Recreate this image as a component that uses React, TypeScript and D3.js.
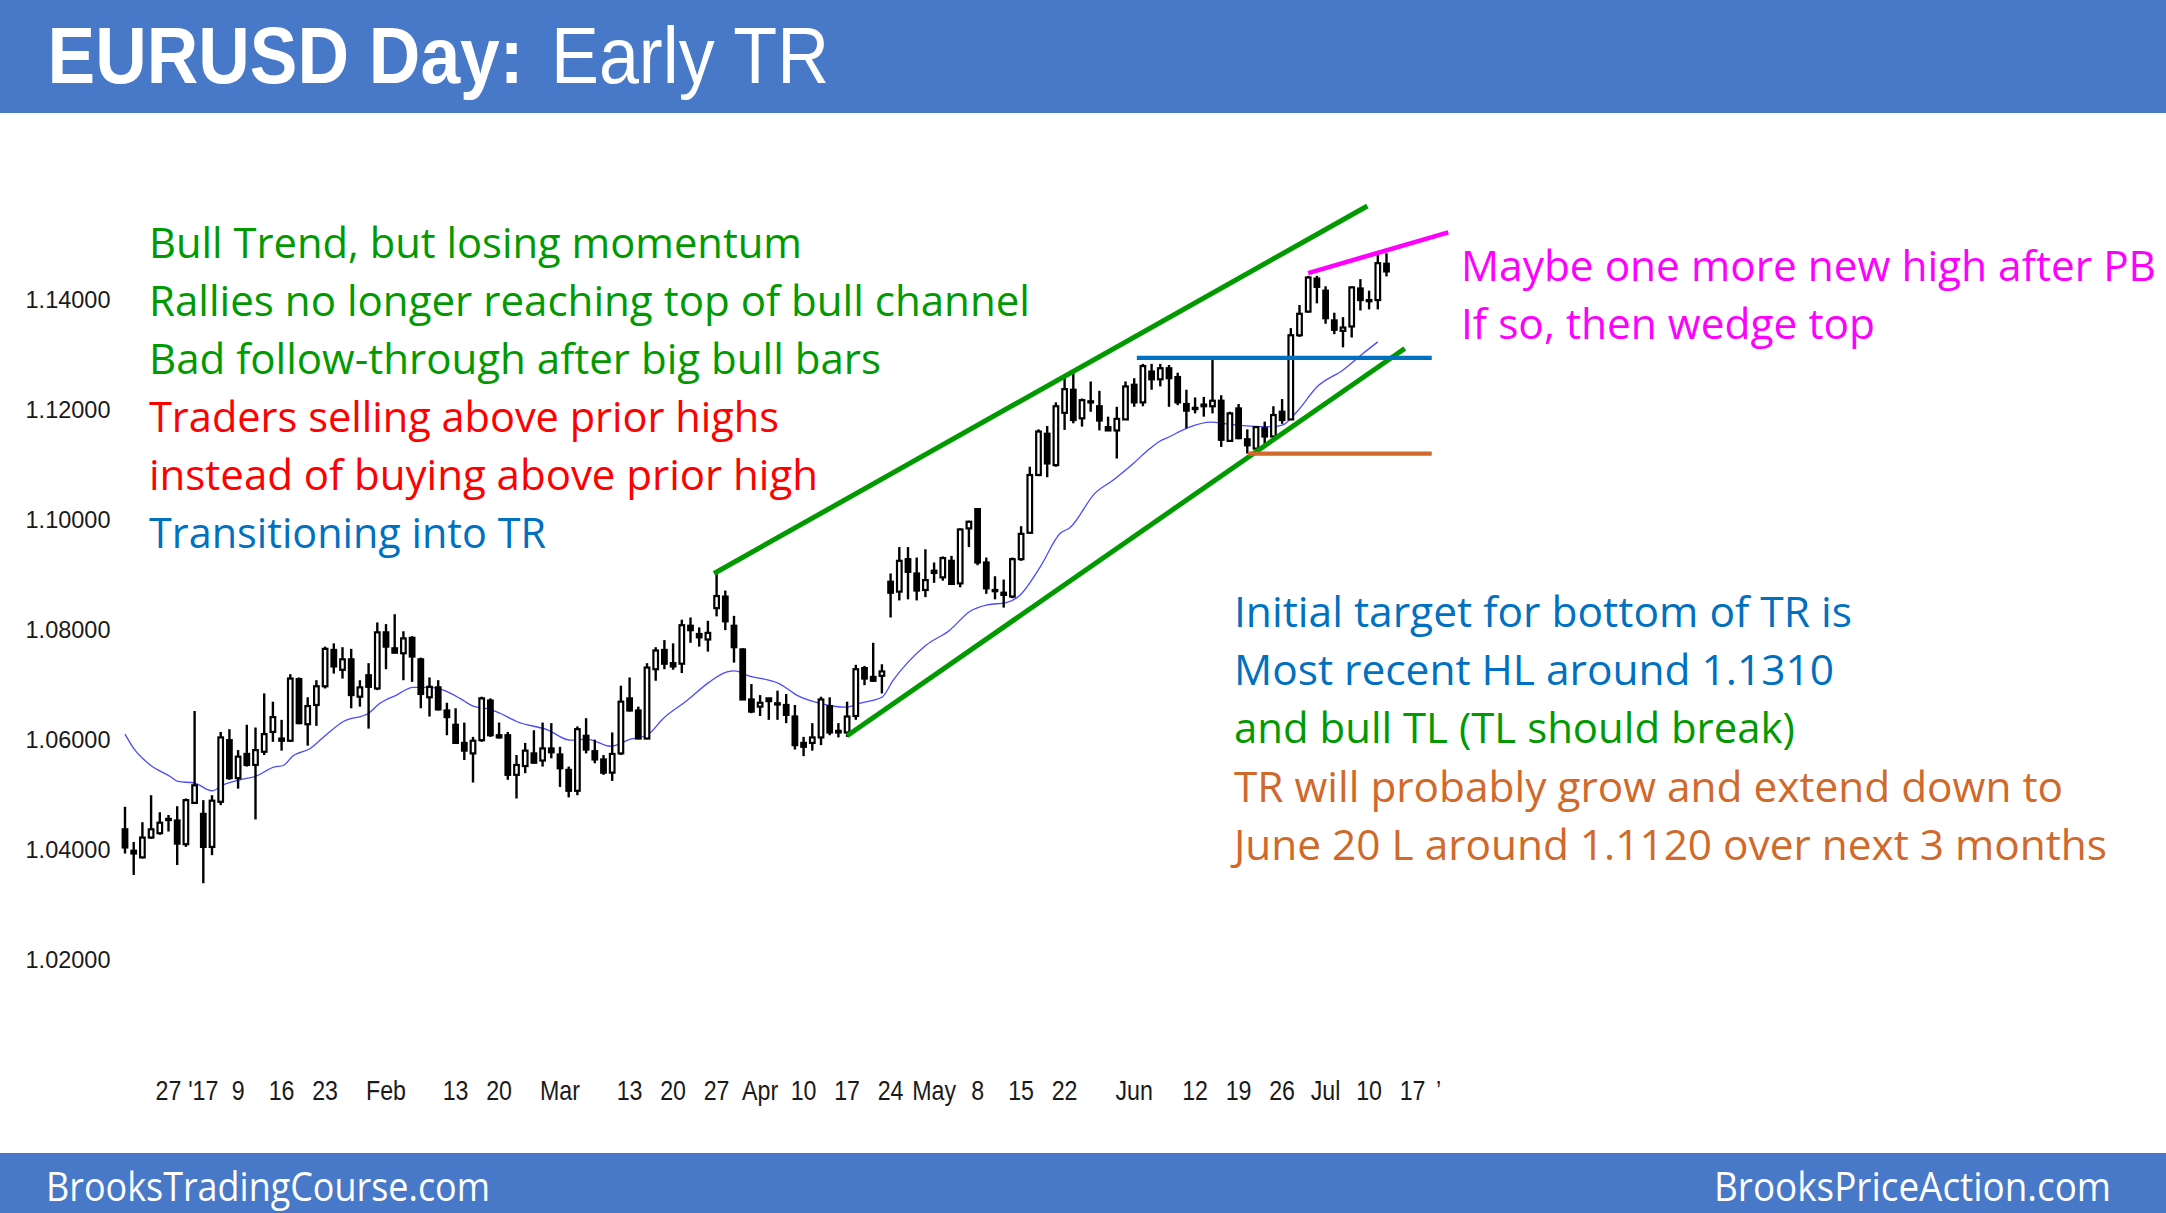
import React from 'react';
import * as d3 from 'd3';

// Daily EURUSD bars, Dec 19 2016 .. Jul 12 2017 (bar index 0..145)
const opens = [
  1.0437, 1.0398, 1.0386, 1.0422, 1.0430, 1.0454, 1.0453, 1.0410, 1.0485, 1.0465,
  1.0405, 1.0487, 1.0599, 1.0530, 1.0574, 1.0554, 1.0578, 1.0614, 1.0602, 1.0598,
  1.0710, 1.0628, 1.0663, 1.0697, 1.0763, 1.0727, 1.0746, 1.0678, 1.0717, 1.0693,
  1.0795, 1.0766, 1.0757, 1.0785, 1.0746, 1.0677, 1.0695, 1.0653, 1.0627, 1.0594,
  1.0575, 1.0599, 1.0671, 1.0608, 1.0608, 1.0536, 1.0552, 1.0575, 1.0562, 1.0584,
  1.0573, 1.0545, 1.0507, 1.0607, 1.0579, 1.0564, 1.0540, 1.0575, 1.0675, 1.0653,
  1.0602, 1.0728, 1.0763, 1.0739, 1.0738, 1.0807, 1.0792, 1.0782, 1.0839, 1.0860,
  1.0807, 1.0764, 1.0673, 1.0660, 1.0675, 1.0666, 1.0663, 1.0642, 1.0594, 1.0594,
  1.0604, 1.0661, 1.0616, 1.0613, 1.0643, 1.0730, 1.0714, 1.0716, 1.0887, 1.0869,
  1.0928, 1.0902, 1.0872, 1.0903, 1.0895, 1.0925, 1.0884, 1.0984, 1.1019, 1.0922,
  1.0872, 1.0867, 1.0860, 1.0928, 1.0976, 1.1081, 1.1156, 1.1099, 1.1194, 1.1236,
  1.1184, 1.1215, 1.1206, 1.1168, 1.1162, 1.1182, 1.1245, 1.1213, 1.1269, 1.1255,
  1.1275, 1.1259, 1.1210, 1.1203, 1.1206, 1.1206, 1.1216, 1.1143, 1.1202, 1.1146,
  1.1129, 1.1166, 1.1151, 1.1196, 1.1182, 1.1335, 1.1378, 1.1438, 1.1416, 1.1362,
  1.1343, 1.1351, 1.1420, 1.1399, 1.1399, 1.1465,
];
const highs = [
  1.0478, 1.0414, 1.0450, 1.0499, 1.0468, 1.0463, 1.0479, 1.0493, 1.0652, 1.0490,
  1.0499, 1.0614, 1.0619, 1.0581, 1.0627, 1.0622, 1.0684, 1.0669, 1.0636, 1.0719,
  1.0713, 1.0677, 1.0708, 1.0769, 1.0775, 1.0768, 1.0765, 1.0708, 1.0739, 1.0813,
  1.0810, 1.0828, 1.0797, 1.0788, 1.0749, 1.0713, 1.0708, 1.0667, 1.0657, 1.0631,
  1.0605, 1.0678, 1.0675, 1.0631, 1.0614, 1.0572, 1.0594, 1.0617, 1.0631, 1.0630,
  1.0587, 1.0551, 1.0624, 1.0639, 1.0600, 1.0572, 1.0613, 1.0698, 1.0713, 1.0660,
  1.0739, 1.0768, 1.0781, 1.0775, 1.0818, 1.0822, 1.0804, 1.0816, 1.0902, 1.0871,
  1.0825, 1.0766, 1.0701, 1.0681, 1.0675, 1.0689, 1.0683, 1.0663, 1.0605, 1.0630,
  1.0678, 1.0677, 1.0630, 1.0669, 1.0736, 1.0734, 1.0776, 1.0737, 1.0902, 1.0950,
  1.0950, 1.0931, 1.0946, 1.0922, 1.0933, 1.0934, 1.0984, 1.0998, 1.1020, 1.0931,
  1.0897, 1.0891, 1.0931, 1.0988, 1.1096, 1.1164, 1.1170, 1.1213, 1.1257, 1.1266,
  1.1220, 1.1251, 1.1234, 1.1187, 1.1205, 1.1251, 1.1257, 1.1283, 1.1283, 1.1283,
  1.1281, 1.1267, 1.1236, 1.1222, 1.1223, 1.1290, 1.1226, 1.1196, 1.1210, 1.1164,
  1.1170, 1.1178, 1.1206, 1.1219, 1.1348, 1.1390, 1.1443, 1.1443, 1.1424, 1.1376,
  1.1368, 1.1424, 1.1437, 1.1416, 1.1481, 1.1484,
];
const lows = [
  1.0393, 1.0354, 1.0384, 1.0420, 1.0427, 1.0433, 1.0372, 1.0405, 1.0483, 1.0339,
  1.0390, 1.0481, 1.0527, 1.0511, 1.0551, 1.0455, 1.0572, 1.0596, 1.0580, 1.0596,
  1.0628, 1.0589, 1.0625, 1.0693, 1.0720, 1.0711, 1.0657, 1.0660, 1.0620, 1.0690,
  1.0728, 1.0757, 1.0708, 1.0705, 1.0657, 1.0642, 1.0653, 1.0608, 1.0593, 1.0563,
  1.0522, 1.0596, 1.0605, 1.0602, 1.0527, 1.0493, 1.0539, 1.0557, 1.0551, 1.0566,
  1.0514, 1.0495, 1.0499, 1.0575, 1.0557, 1.0536, 1.0525, 1.0572, 1.0651, 1.0601,
  1.0601, 1.0707, 1.0728, 1.0727, 1.0721, 1.0776, 1.0769, 1.0760, 1.0824, 1.0799,
  1.0740, 1.0672, 1.0648, 1.0643, 1.0636, 1.0636, 1.0630, 1.0582, 1.0570, 1.0580,
  1.0590, 1.0608, 1.0604, 1.0605, 1.0636, 1.0699, 1.0705, 1.0684, 1.0822, 1.0853,
  1.0855, 1.0853, 1.0859, 1.0885, 1.0889, 1.0883, 1.0877, 1.0950, 1.0917, 1.0865,
  1.0855, 1.0840, 1.0857, 1.0925, 1.0975, 1.1079, 1.1077, 1.1096, 1.1163, 1.1175,
  1.1169, 1.1196, 1.1162, 1.1161, 1.1111, 1.1181, 1.1205, 1.1206, 1.1236, 1.1242,
  1.1205, 1.1208, 1.1166, 1.1193, 1.1187, 1.1193, 1.1132, 1.1142, 1.1146, 1.1120,
  1.1128, 1.1137, 1.1149, 1.1174, 1.1181, 1.1332, 1.1376, 1.1393, 1.1356, 1.1337,
  1.1313, 1.1331, 1.1380, 1.1382, 1.1382, 1.1442,
];
const closes = [
  1.0404, 1.0393, 1.0422, 1.0437, 1.0449, 1.0456, 1.0411, 1.0490, 1.0517, 1.0405,
  1.0489, 1.0604, 1.0530, 1.0569, 1.0554, 1.0581, 1.0610, 1.0641, 1.0598, 1.0711,
  1.0630, 1.0661, 1.0697, 1.0765, 1.0733, 1.0746, 1.0681, 1.0695, 1.0696, 1.0795,
  1.0769, 1.0758, 1.0784, 1.0751, 1.0683, 1.0696, 1.0655, 1.0641, 1.0594, 1.0580,
  1.0598, 1.0675, 1.0608, 1.0604, 1.0536, 1.0554, 1.0580, 1.0558, 1.0584, 1.0577,
  1.0548, 1.0507, 1.0619, 1.0582, 1.0564, 1.0540, 1.0574, 1.0669, 1.0653, 1.0602,
  1.0731, 1.0762, 1.0738, 1.0733, 1.0808, 1.0799, 1.0786, 1.0794, 1.0861, 1.0815,
  1.0768, 1.0673, 1.0651, 1.0667, 1.0670, 1.0664, 1.0645, 1.0590, 1.0587, 1.0604,
  1.0673, 1.0613, 1.0613, 1.0642, 1.0728, 1.0711, 1.0707, 1.0724, 1.0867, 1.0925,
  1.0905, 1.0871, 1.0890, 1.0907, 1.0930, 1.0883, 1.0982, 1.0996, 1.0922, 1.0875,
  1.0870, 1.0863, 1.0928, 1.0974, 1.1081, 1.1160, 1.1102, 1.1206, 1.1237, 1.1181,
  1.1217, 1.1213, 1.1180, 1.1162, 1.1183, 1.1242, 1.1213, 1.1279, 1.1255, 1.1275,
  1.1257, 1.1213, 1.1198, 1.1201, 1.1209, 1.1216, 1.1145, 1.1193, 1.1148, 1.1135,
  1.1168, 1.1151, 1.1190, 1.1181, 1.1335, 1.1374, 1.1440, 1.1423, 1.1366, 1.1345,
  1.1349, 1.1422, 1.1399, 1.1397, 1.1466, 1.1451,
];

// Moving average (bar index, price)
const maIdx = [
  0, 1, 2.9, 5.2, 6.1, 8, 10, 11.3, 13.2, 15.1, 17.1, 18.2, 19.2, 21.3, 23.2, 25.1,
  28, 29.3, 31.2, 33.1, 35.1, 36.6, 38.5, 40, 42, 43.1, 45, 48.5, 51.2, 53.1, 55.8,
  58.1, 60, 61.9, 64.6, 67.2, 69.2, 70.1, 71.5, 75.3, 77.2, 79.9, 82.9, 84.4, 87,
  88.3, 89.9, 92.1, 94.8, 97.1, 99.1, 101.3, 102.9, 105.2, 107.5, 108.6, 111.5,
  113.6, 115.9, 117.8, 118.9, 120.1, 122.2, 124.8, 126.6, 129.3, 132, 133.1, 134.7,
  137, 140, 142.3, 144,
];
const maVals = [
  1.0610, 1.0584, 1.0554, 1.0533, 1.0524, 1.0521, 1.0507, 1.0518, 1.0527, 1.0534,
  1.0550, 1.0553, 1.0569, 1.0584, 1.0610, 1.0633, 1.0648, 1.0666, 1.0681, 1.0695,
  1.0695, 1.0690, 1.0675, 1.0661, 1.0655, 1.0648, 1.0633, 1.0618, 1.0599, 1.0601,
  1.0588, 1.0601, 1.0608, 1.0639, 1.0671, 1.0705, 1.0723, 1.0725, 1.0717, 1.0701,
  1.0681, 1.0666, 1.0659, 1.0666, 1.0677, 1.0708, 1.0739, 1.0772, 1.0799, 1.0833,
  1.0845, 1.0849, 1.0863, 1.0914, 1.0975, 1.0985, 1.1048, 1.1072, 1.1102, 1.1129,
  1.1142, 1.1151, 1.1167, 1.1177, 1.1174, 1.1170, 1.1169, 1.1172, 1.1196, 1.1241,
  1.1272, 1.1302, 1.1323,
];

// X axis tick labels (bar index of each label)
const tickIdx = [5, 9, 13, 18, 23, 30, 38, 43, 50, 58, 63, 68, 73, 78, 83, 88, 93, 98, 103, 108, 116, 123, 128, 133, 138, 143, 148, 151];
const tickLabels = ["27", "'17", "9", "16", "23", "Feb", "13", "20", "Mar", "13", "20", "27", "Apr", "10", "17", "24", "May", "8", "15", "22", "Jun", "12", "19", "26", "Jul", "10", "17", "\u2019"];

// Y axis ticks
const yTicks = [1.02, 1.04, 1.06, 1.08, 1.1, 1.12, 1.14];

// Drawn lines: [startIndex, startPrice, endIndex, endPrice]
const channelTop = [67.7, 1.0902, 142.8, 1.157];
const channelBottom = [83.0, 1.0607, 147.1, 1.1311];
const wedgeLine = [136.0, 1.1448, 152.1, 1.1522];
const higherLowLine = [116.3, 1.1294, 150.2, 1.1294];
const june20Line = [129.1, 1.112, 150.2, 1.112];

const leftNotes = [
  "Bull Trend, but losing momentum",
  "Rallies no longer reaching top of bull channel",
  "Bad follow-through after big bull bars",
  "Traders selling above prior highs",
  "instead of buying above prior high",
  "Transitioning into TR",
];
const rightTopNotes = ["Maybe one more new high after PB", "If so, then wedge top"];
const rightBottomNotes = [
  "Initial target for bottom of TR is",
  "Most recent HL around 1.1310",
  "and bull TL (TL should break)",
  "TR will probably grow and extend down to",
  "June 20 L around 1.1120 over next 3 months",
];

const GREEN = '#009a00';
const RED = '#ff0000';
const BLUE = '#0070c0';
const MAGENTA = '#ff00ff';
const ORANGE = '#d0692a';
const BAND = '#4878c8';

export default function App() {
  const W = 2166;
  const H = 1213;
  const x = d3.scaleLinear().domain([0, 145]).range([125, 1386.5]);
  const y = d3.scaleLinear().domain([1.02, 1.14]).range([959.7, 299.5]);

  const maLine = d3
    .line<number>()
    .x((_, i) => x(maIdx[i]))
    .y((d) => y(d))
    .curve(d3.curveMonotoneX);

  const seg = (s: number[], color: string, w: number, key: string) => (
    <line
      key={key}
      x1={x(s[0])}
      y1={y(s[1])}
      x2={x(s[2])}
      y2={y(s[3])}
      stroke={color}
      strokeWidth={w}
    />
  );

  const bodyW = 4.6;
  const noteFont = "'Open Sans', 'Noto Sans', sans-serif";

  const leftColors = [GREEN, GREEN, GREEN, RED, RED, BLUE];
  const leftWidths = [653, 881, 732, 630, 669, 397];
  const rbColors = [BLUE, BLUE, GREEN, ORANGE, ORANGE];
  const rbWidths = [618, 600, 561, 829, 873];
  const rbBase = [627, 685, 743, 802, 860];
  const rtWidths = [695, 414];

  return (
    <svg
      width={W}
      height={H}
      viewBox={`0 0 ${W} ${H}`}
      style={{ position: 'absolute', left: 0, top: 0, background: '#ffffff' }}
    >
      <rect x={0} y={0} width={W} height={H} fill="#ffffff" />
      {/* header */}
      <rect x={0} y={0} width={W} height={113} fill={BAND} />
      <text
        x={47.6}
        y={83}
        fontFamily="'Liberation Sans', Arial, sans-serif"
        fontWeight="bold"
        fontSize={79}
        fill="#ffffff"
        textLength={476}
        lengthAdjust="spacingAndGlyphs"
      >
        EURUSD Day:
      </text>
      <text
        x={551}
        y={83}
        fontFamily="'Liberation Sans', Arial, sans-serif"
        fontSize={79}
        fill="#ffffff"
        textLength={278}
        lengthAdjust="spacingAndGlyphs"
      >
        Early TR
      </text>

      {/* y axis labels */}
      {yTicks.map((t) => (
        <text
          key={`y${t}`}
          x={110.5}
          y={y(t) + 8.4}
          textAnchor="end"
          fontFamily="'Liberation Sans', Arial, sans-serif"
          fontSize={23.5}
          fill="#1a1a1a"
        >
          {t.toFixed(5)}
        </text>
      ))}

      {/* x axis labels (narrow glyphs) */}
      {tickIdx.map((t, i) => (
        <text
          key={`x${i}`}
          transform={`translate(${x(t)},1100) scale(0.86,1)`}
          textAnchor="middle"
          fontFamily="'Liberation Sans', Arial, sans-serif"
          fontSize={27}
          fill="#1a1a1a"
        >
          {tickLabels[i]}
        </text>
      ))}

      {/* moving average */}
      <path d={maLine(maVals) || ''} fill="none" stroke="#4a4aff" strokeWidth={1.3} />

      {/* candles */}
      {opens.map((o, i) => {
        const c = closes[i];
        const cx = x(i);
        const top = y(Math.max(o, c));
        const bot = y(Math.min(o, c));
        const bull = c >= o;
        return (
          <g key={`c${i}`}>
            <line x1={cx} x2={cx} y1={y(highs[i])} y2={y(lows[i])} stroke="#000" strokeWidth={2.4} />
            <rect
              x={cx - bodyW / 2}
              y={top}
              width={bodyW}
              height={Math.max(bot - top, 1.2)}
              fill={bull ? '#ffffff' : '#000000'}
              stroke="#000"
              strokeWidth={2.2}
            />
          </g>
        );
      })}

      {/* drawn lines */}
      {seg(channelTop, GREEN, 5, 'ct')}
      {seg(channelBottom, GREEN, 5, 'cb')}
      {seg(wedgeLine, MAGENTA, 4.6, 'wl')}
      {seg(higherLowLine, BLUE, 4.3, 'hl')}
      {seg(june20Line, ORANGE, 4.3, 'jl')}

      {/* left notes */}
      {leftNotes.map((t, i) => (
        <text
          key={`ln${i}`}
          x={149}
          y={258 + i * 58}
          fontFamily={noteFont}
          fontSize={42}
          fill={leftColors[i]}
          textLength={leftWidths[i]}
          lengthAdjust="spacingAndGlyphs"
        >
          {t}
        </text>
      ))}

      {/* right top notes */}
      {rightTopNotes.map((t, i) => (
        <text
          key={`rt${i}`}
          x={1461}
          y={281 + i * 58}
          fontFamily={noteFont}
          fontSize={42}
          fill={MAGENTA}
          textLength={rtWidths[i]}
          lengthAdjust="spacingAndGlyphs"
        >
          {t}
        </text>
      ))}

      {/* right bottom notes */}
      {rightBottomNotes.map((t, i) => (
        <text
          key={`rb${i}`}
          x={1234}
          y={rbBase[i]}
          fontFamily={noteFont}
          fontSize={42}
          fill={rbColors[i]}
          textLength={rbWidths[i]}
          lengthAdjust="spacingAndGlyphs"
        >
          {t}
        </text>
      ))}

      {/* footer */}
      <rect x={0} y={1153} width={W} height={60} fill={BAND} />
      <text
        x={46}
        y={1201}
        fontFamily={noteFont}
        fontSize={40}
        fill="#ffffff"
        textLength={444}
        lengthAdjust="spacingAndGlyphs"
      >
        BrooksTradingCourse.com
      </text>
      <text
        x={1714}
        y={1201}
        fontFamily={noteFont}
        fontSize={40}
        fill="#ffffff"
        textLength={397}
        lengthAdjust="spacingAndGlyphs"
      >
        BrooksPriceAction.com
      </text>
    </svg>
  );
}
